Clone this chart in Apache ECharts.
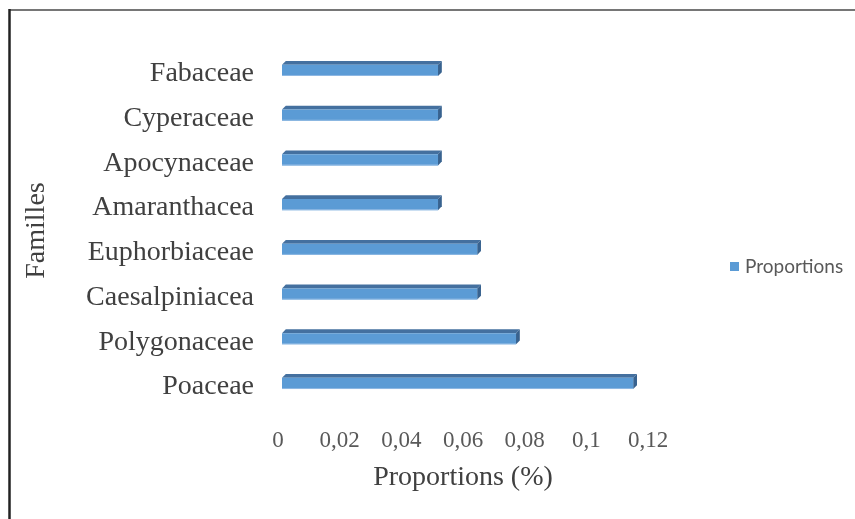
<!DOCTYPE html>
<html>
<head>
<meta charset="utf-8">
<script src="https://cdn.jsdelivr.net/npm/echarts@6/dist/echarts.min.js"></script>
<style>
  html, body { margin: 0; padding: 0; background: #ffffff; }
  #chart { width: 855px; height: 519px; }
</style>
</head>
<body>
<div id="chart"></div>
<script>
// Families, listed bottom to top as they appear on the category axis
const families = ['Poaceae', 'Polygonaceae', 'Caesalpiniacea', 'Euphorbiaceae',
                  'Amaranthacea', 'Apocynaceae', 'Cyperaceae', 'Fabaceae'];
const proportions = [0.1139, 0.0759, 0.0633, 0.0633, 0.0506, 0.0506, 0.0506, 0.0506];
const xTicks = [0, 0.02, 0.04, 0.06, 0.08, 0.1, 0.12];
const seriesName = 'Proportions';

const chart = echarts.init(document.getElementById('chart'), null, { renderer: 'canvas' });

// Draws one extruded (3D-look) horizontal bar: front face, top face and end face.
// The front face sits slightly in front of the axis plane, hence the small shift.
function renderBar(params, api) {
  const val = api.value(0);
  const idx = api.value(1);
  const start = api.coord([0, idx]);
  const end = api.coord([val, idx]);
  const band = api.size([0, 1])[1];
  const shift = 4;
  const h = band * 0.25;
  const d = band * 0.085;
  const cy = start[1] - band * 0.08;
  const y0 = cy - h / 2, y1 = cy + h / 2;
  const x0 = start[0] + shift, x1 = end[0] + shift;
  return {
    type: 'group',
    children: [
      { type: 'polygon', shape: { points: [[x0, y0], [x0 + d, y0 - d], [x1 + d, y0 - d], [x1, y0]] },
        style: { fill: '#44709f' } },
      { type: 'polygon', shape: { points: [[x1, y0], [x1 + d, y0 - d], [x1 + d, y1 - d], [x1, y1]] },
        style: { fill: '#38628f' } },
      { type: 'rect', shape: { x: x0, y: y0, width: x1 - x0, height: y1 - y0 },
        style: { fill: '#5b9bd5' } },
      { type: 'line', shape: { x1: x0, y1: y1 - 0.5, x2: x1, y2: y1 - 0.5 },
        style: { stroke: '#8fb9e3', lineWidth: 1 } }
    ]
  };
}

const option = {
  backgroundColor: '#ffffff',
  animation: false,
  grid: { left: 278, right: 207, top: 51.6, bottom: 109.6, containLabel: false },
  legend: {
    data: [{ name: seriesName, icon: 'rect' }],
    left: 725, top: 252,
    itemWidth: 9, itemHeight: 9,
    textStyle: { fontFamily: 'Lato', fontSize: 19, color: '#595959', padding: [0, 0, 0, 1] }
  },
  xAxis: {
    type: 'value',
    min: 0, max: 0.12, interval: 0.02,
    name: 'Proportions (%)',
    nameLocation: 'middle',
    nameGap: 54,
    nameTextStyle: { fontFamily: 'Liberation Serif', fontSize: 28, color: '#404040' },
    axisLine: { show: false },
    axisTick: { show: false },
    splitLine: { show: false },
    axisLabel: {
      margin: 20,
      fontFamily: 'Liberation Serif', fontSize: 23, color: '#595959',
      formatter: v => String(Math.round(v * 100) / 100).replace('.', ',')
    }
  },
  yAxis: {
    type: 'category',
    data: families,
    name: 'Familles',
    nameLocation: 'middle',
    nameGap: 227,
    nameRotate: 90,
    nameTextStyle: { fontFamily: 'Liberation Serif', fontSize: 28, color: '#404040' },
    axisLine: { show: false },
    axisTick: { show: false },
    splitLine: { show: false },
    axisLabel: { margin: 24, fontFamily: 'Liberation Serif', fontSize: 28, color: '#404040' }
  },
  series: [{
    name: seriesName,
    type: 'custom',
    itemStyle: { color: '#5b9bd5' },
    encode: { x: 0, y: 1 },
    data: proportions.map((v, i) => [v, i]),
    renderItem: renderBar
  }],
  graphic: [
    { type: 'line', shape: { x1: 9, y1: 10, x2: 855, y2: 10 }, style: { stroke: '#767676', lineWidth: 2 } },
    { type: 'line', shape: { x1: 9.5, y1: 9, x2: 9.5, y2: 519 }, style: { stroke: '#222222', lineWidth: 2.5 } }
  ]
};

chart.setOption(option);
</script>
</body>
</html>
